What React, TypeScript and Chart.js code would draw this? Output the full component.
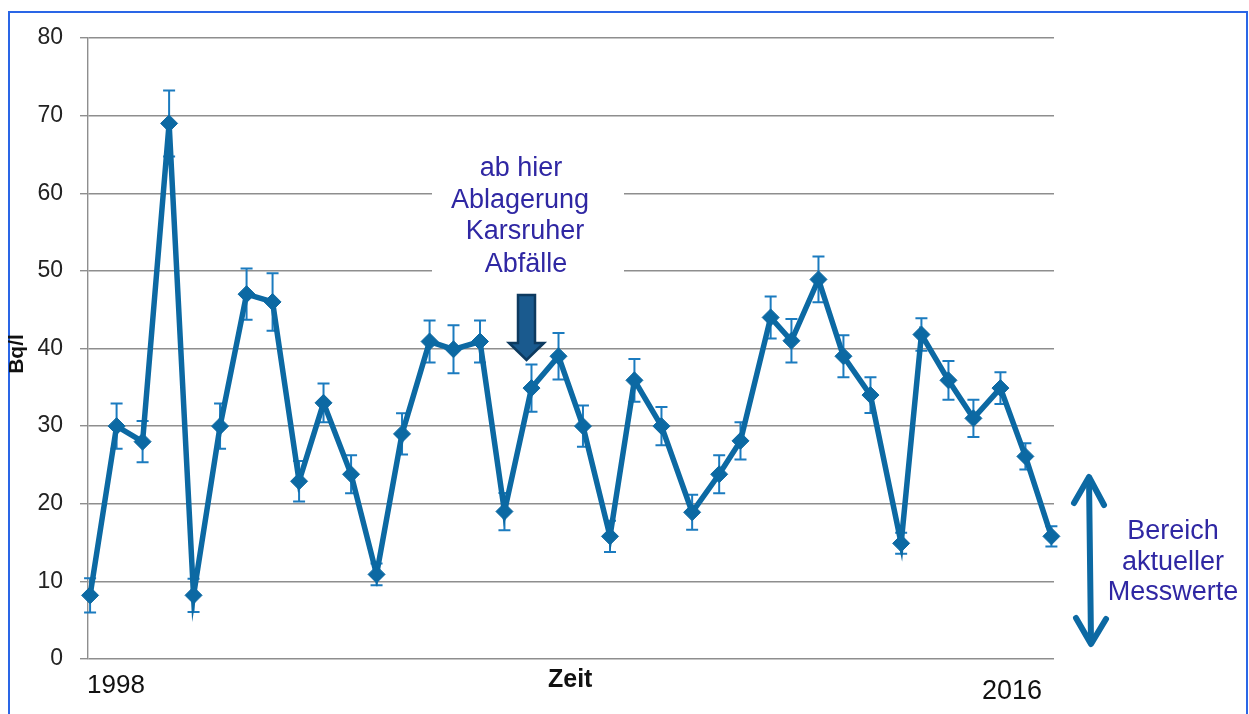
import React, { useEffect, useRef } from "react";
import { Chart, registerables } from "chart.js";

Chart.register(...registerables);

// Sampling dates (decimal years)
const sampleDates = [
  1998.0, 1998.51, 1999.01, 1999.52, 1999.99, 2000.5, 2001.01, 2001.51, 2002.02, 2002.49,
  2003.02, 2003.51, 2004.0, 2004.53, 2004.99, 2005.5, 2005.97, 2006.49, 2007.01, 2007.48,
  2008.0, 2008.47, 2008.99, 2009.58, 2010.1, 2010.51, 2011.09, 2011.49, 2012.01, 2012.49,
  2013.01, 2013.6, 2013.99, 2014.51, 2014.99, 2015.51, 2015.99, 2016.49,
];

// Activity in Bq/l
const activity = [
  8.2, 30, 28, 69, 8.2, 30, 47, 46, 22.9, 33,
  23.8, 10.9, 29, 40.9, 39.9, 40.9, 19, 34.9, 39, 30,
  15.8, 35.9, 30, 18.9, 23.8, 28.1, 44, 41, 48.9, 39,
  34, 14.9, 41.8, 35.9, 31, 34.9, 26.1, 15.8,
];

// Uncertainty (+/-) in Bq/l
const uncertainty = [
  2.2, 2.9, 2.65, 4.25, 2.15, 2.9, 3.3, 3.7, 2.6, 2.5,
  2.45, 1.4, 2.65, 2.7, 3.1, 2.7, 2.4, 3.05, 3.0, 2.65,
  2.0, 2.75, 2.45, 2.25, 2.45, 2.4, 2.7, 2.8, 2.95, 2.7,
  2.3, 1.35, 2.1, 2.5, 2.4, 2.05, 1.7, 1.3,
];

const xRange = [1997.96, 2016.54];
const yRange = [0, 80];
const yStep = 10;

const yTitle = "Bq/l";
const xTitle = "Zeit";
const startLabel = "1998";
const endLabel = "2016";
const noteLines = ["ab hier", "Ablagerung", "Karsruher", "Abfälle"];
const rangeLines = ["Bereich", "aktueller", "Messwerte"];

const FONT = "'Liberation Sans', Arial, sans-serif";
const SERIES = "#0c69a3";
const ERRCOL = "#1b7bbf";
const NOTE = "#2f27a3";
const GRID = "#8e8e8e";

export default function App() {
  const ref = useRef<HTMLCanvasElement>(null);

  useEffect(() => {
    const canvas = ref.current;
    if (!canvas) return;

    const overlay = {
      id: "overlay",
      beforeDatasetsDraw(chart: any) {
        const ctx = chart.ctx as CanvasRenderingContext2D;
        const xs = chart.scales.x;
        const ys = chart.scales.y;
        ctx.save();
        // white box behind the note text (interrupts gridlines)
        ctx.fillStyle = "#ffffff";
        ctx.fillRect(432, 140, 192, 150);
        // note text
        ctx.fillStyle = NOTE;
        ctx.font = `27px ${FONT}`;
        ctx.textAlign = "center";
        ctx.textBaseline = "alphabetic";
        const noteX = [521, 520, 525, 526];
        const noteY = [176, 207.5, 239, 271.5];
        noteLines.forEach((t, i) => ctx.fillText(t, noteX[i], noteY[i]));
        // error bars
        ctx.strokeStyle = ERRCOL;
        ctx.lineWidth = 2;
        sampleDates.forEach((d, i) => {
          const x = xs.getPixelForValue(d);
          const yt = ys.getPixelForValue(activity[i] + uncertainty[i]);
          const yb = ys.getPixelForValue(activity[i] - uncertainty[i]);
          ctx.beginPath();
          ctx.moveTo(x, yt);
          ctx.lineTo(x, yb);
          ctx.moveTo(x - 6, yt);
          ctx.lineTo(x + 6, yt);
          ctx.moveTo(x - 6, yb);
          ctx.lineTo(x + 6, yb);
          ctx.stroke();
        });
        ctx.restore();
      },
      afterDatasetsDraw(chart: any) {
        const ctx = chart.ctx as CanvasRenderingContext2D;
        ctx.save();
        // block arrow pointing down
        ctx.beginPath();
        ctx.moveTo(518, 295);
        ctx.lineTo(535, 295);
        ctx.lineTo(535, 343);
        ctx.lineTo(544, 343);
        ctx.lineTo(526.5, 360);
        ctx.lineTo(509, 343);
        ctx.lineTo(518, 343);
        ctx.closePath();
        ctx.fillStyle = "#1a5a8e";
        ctx.fill();
        ctx.strokeStyle = "#0d3a5f";
        ctx.lineWidth = 2.5;
        ctx.lineJoin = "miter";
        ctx.stroke();
        ctx.restore();
      },
      afterDraw(chart: any) {
        const ctx = chart.ctx as CanvasRenderingContext2D;
        ctx.save();
        // y title
        ctx.fillStyle = "#111";
        ctx.font = `bold 21px ${FONT}`;
        ctx.textAlign = "center";
        ctx.textBaseline = "middle";
        ctx.translate(17, 354);
        ctx.rotate(-Math.PI / 2);
        ctx.fillText(yTitle, 0, 0);
        ctx.setTransform(1, 0, 0, 1, 0, 0);
        // x labels
        ctx.textBaseline = "alphabetic";
        ctx.textAlign = "left";
        ctx.font = `26px ${FONT}`;
        ctx.fillStyle = "#111";
        ctx.fillText(startLabel, 87, 693);
        ctx.font = `27px ${FONT}`;
        ctx.fillText(endLabel, 982, 699);
        ctx.font = `bold 25px ${FONT}`;
        ctx.fillText(xTitle, 548, 687);
        // range arrow
        ctx.strokeStyle = SERIES;
        ctx.lineWidth = 6;
        ctx.lineCap = "round";
        ctx.lineJoin = "round";
        ctx.beginPath();
        ctx.moveTo(1089, 478);
        ctx.lineTo(1091, 642);
        ctx.stroke();
        ctx.beginPath();
        ctx.moveTo(1074, 503);
        ctx.lineTo(1089, 477);
        ctx.lineTo(1104, 505);
        ctx.stroke();
        ctx.beginPath();
        ctx.moveTo(1076, 618);
        ctx.lineTo(1091, 644);
        ctx.lineTo(1106, 619);
        ctx.stroke();
        // range text
        ctx.fillStyle = NOTE;
        ctx.font = `27px ${FONT}`;
        ctx.textAlign = "center";
        const ry = [538.5, 569.5, 600];
        rangeLines.forEach((t, i) => ctx.fillText(t, 1173, ry[i]));
        ctx.restore();
      },
    };

    const chart = new Chart(canvas, {
      type: "line",
      data: {
        datasets: [
          {
            data: sampleDates.map((d, i) => ({ x: d, y: activity[i] })),
            borderColor: SERIES,
            backgroundColor: SERIES,
            borderWidth: 5.5,
            pointStyle: "rectRot",
            pointRadius: 8.5,
            pointBorderWidth: 1,
            pointBackgroundColor: SERIES,
            pointBorderColor: SERIES,
            tension: 0,
            clip: false as any,
          },
        ],
      },
      options: {
        responsive: false,
        animation: false,
        devicePixelRatio: 1,
        layout: { padding: { left: 0, top: 38, right: 195, bottom: 55 } },
        plugins: { legend: { display: false }, tooltip: { enabled: false } },
        scales: {
          x: { type: "linear", min: xRange[0], max: xRange[1], display: false },
          y: {
            min: yRange[0],
            max: yRange[1],
            ticks: {
              stepSize: yStep,
              padding: 17,
              color: "#222",
              font: { family: FONT, size: 23 },
            },
            grid: { color: GRID, lineWidth: 1.4, tickLength: 8, drawTicks: true },
            border: { display: true, color: GRID, width: 1.4 },
            afterFit: (s: any) => {
              s.width = 88;
            },
          },
        },
      },
      plugins: [overlay],
    } as any);

    return () => chart.destroy();
  }, []);

  return (
    <div style={{ position: "relative", width: 1249, height: 714, overflow: "hidden", background: "#fff" }}>
      <style>{"body{margin:0;overflow:hidden;}"}</style>
      <div
        style={{
          position: "absolute",
          left: 8,
          top: 11,
          width: 1240,
          height: 800,
          boxSizing: "border-box",
          border: "2px solid #2a66e6",
        }}
      />
      <canvas
        ref={ref}
        width={1249}
        height={714}
        style={{ position: "absolute", left: 0, top: 0, width: 1249, height: 714, display: "block" }}
      />
    </div>
  );
}
